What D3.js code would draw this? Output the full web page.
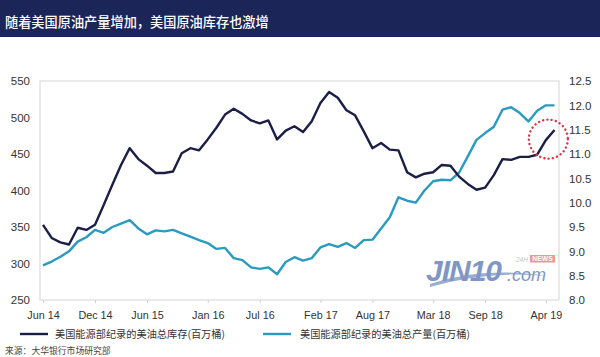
<!DOCTYPE html>
<html><head><meta charset="utf-8">
<script src="https://cdn.jsdelivr.net/npm/d3@7"></script>
<style>
html,body{margin:0;padding:0;background:#fff;}
svg{display:block;font-family:"Liberation Sans",Arial,sans-serif;}
</style></head>
<body>
<svg id="c" width="600" height="357"></svg>
<script>
// ---- data ----
const title = "随着美国原油产量增加，美国原油库存也激增";
const months = d3.timeMonth.range(new Date(2014,5,1), new Date(2019,5,1)).map(d3.timeFormat("%b %y"));
const inventory = [353,335,329,326,349,346,353,380,408,435,458,443,434,424,424,426,451,458,455,470,
  486,504,512,505,496,492,496,470,482,488,480,495,520,535,527,510,503,481,458,465,
  456,455,425,418,423,425,435,434,419,409,401,404,421,443,442,446,446,449,469,483];
const production = [8.71,8.79,8.89,9.00,9.20,9.29,9.44,9.38,9.50,9.57,9.64,9.47,9.35,9.43,9.41,9.44,9.37,9.30,9.23,9.17,
  9.05,9.07,8.86,8.82,8.67,8.64,8.67,8.53,8.78,8.88,8.81,8.86,9.08,9.15,9.09,9.17,9.07,9.23,9.24,9.47,
  9.70,10.11,10.04,10.00,10.25,10.44,10.47,10.46,10.62,10.95,11.29,11.43,11.56,11.91,11.96,11.84,11.67,11.89,12.00,12.00];
const xTickLabels = ["Jun 14","Dec 14","Jun 15","Jan 16","Jul 16","Feb 17","Aug 17","Mar 18","Sep 18","Apr 19"];
const leftTicks = [250,300,350,400,450,500,550];
const rightTicks = [8.0,8.5,9.0,9.5,10.0,10.5,11.0,11.5,12.0,12.5];
const legendLabels = ["美国能源部纪录的美油总库存(百万桶)","美国能源部纪录的美油总产量(百万桶)"];
const source = "来源：大华银行市场研究部";
const colors = ["#1b1f45","#2a9ac0"];

const svg = d3.select("#c");
const L=40, R=559, T=81, B=300;

// title bar
svg.append("rect").attr("x",0).attr("y",0).attr("width",600).attr("height",37).attr("fill","#1b2558");
svg.append("text").attr("x",5).attr("y",27).attr("fill","#fff")
  .style("font-family","'Noto Sans CJK SC',sans-serif").style("font-size","13.2px").style("font-weight","500")
  .text(title);

const x = d3.scalePoint().domain(months).range([43,554.5]);
const yL = d3.scaleLinear().domain([250,550]).range([B,T]);
const yR = d3.scaleLinear().domain([8,12.5]).range([B,T]);

// frame
svg.append("rect").attr("x",L).attr("y",T).attr("width",R-L).attr("height",B-T)
  .attr("fill","none").attr("stroke","#dcdcdc").attr("stroke-width",1.2);

// left axis
const gL = svg.append("g").attr("transform",`translate(${L},0)`)
  .call(d3.axisLeft(yL).tickValues(leftTicks).tickSize(0).tickPadding(10).tickFormat(d3.format("d")));
gL.select(".domain").remove();
gL.selectAll("text").style("font-size","11.5px").attr("fill","#333");

// right axis
const gR = svg.append("g").attr("transform",`translate(${R},0)`)
  .call(d3.axisRight(yR).tickValues(rightTicks).tickSize(0).tickPadding(10).tickFormat(d3.format(".1f")));
gR.select(".domain").remove();
gR.selectAll("text").style("font-size","11.5px").attr("fill","#333");

// bottom axis
const gB = svg.append("g").attr("transform",`translate(0,${B})`)
  .call(d3.axisBottom(x).tickValues(xTickLabels).tickSize(3).tickPadding(8));
gB.select(".domain").remove();
gB.selectAll("line").attr("stroke","#d0d0d0");
gB.selectAll("text").style("font-size","10.8px").attr("fill","#333");

// watermark
const wm = svg.append("g").attr("opacity",0.85);
wm.append("path").attr("d","M430,284 Q480,266 548,276 Q490,270 430,287 Z").attr("fill","#8aa0c8");
wm.append("text").attr("x",426).attr("y",281).attr("fill","#6a86bd")
  .style("font-size","30px").style("font-weight","bold").style("font-style","italic").style("letter-spacing","-1px").text("JIN10");
wm.append("text").attr("x",507).attr("y",281).attr("fill","#6a86bd")
  .style("font-size","18px").style("font-style","italic").text(".com");
wm.append("text").attr("x",516).attr("y",261.5).attr("fill","#bbb").style("font-size","6.5px").style("font-style","italic").text("24H");
wm.append("rect").attr("x",530).attr("y",255).attr("width",25).attr("height",7.5).attr("fill","#e88880");
wm.append("text").attr("x",542.5).attr("y",261.3).attr("text-anchor","middle").attr("fill","#fff").style("font-size","6.8px").style("font-weight","bold").text("NEWS");

// lines
const lineL = d3.line().x((d,i)=>x(months[i])).y(d=>yL(d));
const lineR = d3.line().x((d,i)=>x(months[i])).y(d=>yR(d));
svg.append("path").datum(production).attr("d",lineR).attr("fill","none")
  .attr("stroke",colors[1]).attr("stroke-width",2.4).attr("stroke-linejoin","round");
svg.append("path").datum(inventory).attr("d",lineL).attr("fill","none")
  .attr("stroke",colors[0]).attr("stroke-width",2.4).attr("stroke-linejoin","round");

// red dotted circle around latest inventory
const lastI = inventory.length-2;
svg.append("circle").attr("cx",x(months[lastI])+2.5).attr("cy",yL(inventory[lastI])-1).attr("r",19.5)
  .attr("fill","none").attr("stroke","#d9364c").attr("stroke-width",2.4)
  .attr("stroke-dasharray","0.1,4.2").attr("stroke-linecap","round");

// legend
const lg = svg.append("g");
[[20,55],[263,300]].forEach((p,i)=>{
  lg.append("line").attr("x1",p[0]).attr("x2",p[0]+28).attr("y1",334).attr("y2",334)
    .attr("stroke",colors[i]).attr("stroke-width",2.4);
  lg.append("text").attr("x",p[1]).attr("y",338).attr("fill","#333")
    .style("font-family","'Noto Sans CJK SC',sans-serif").style("font-size","10.2px").text(legendLabels[i]);
});
svg.append("text").attr("x",5).attr("y",354).attr("fill","#444")
  .style("font-family","'Noto Sans CJK SC',sans-serif").style("font-size","8.8px").text(source);
</script>
</body></html>
